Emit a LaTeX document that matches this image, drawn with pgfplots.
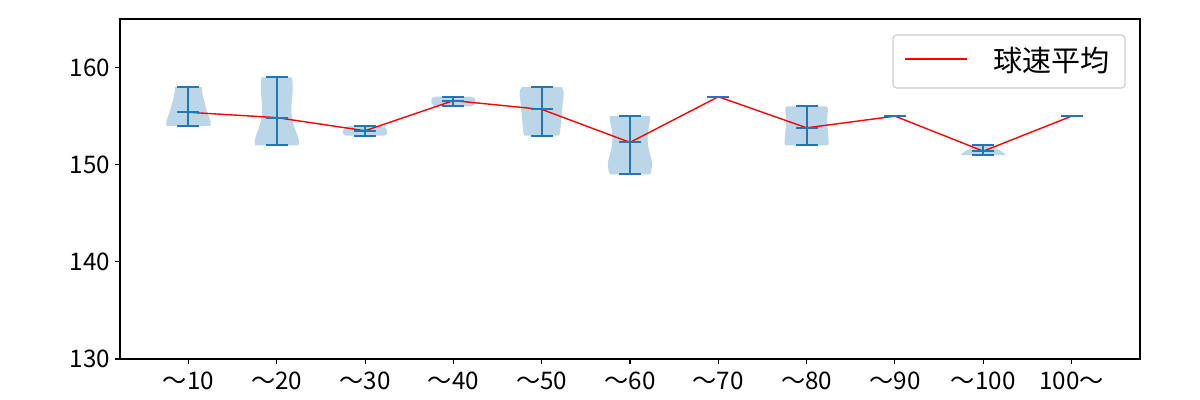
\documentclass[border=0pt]{standalone}
\usepackage{fontspec}
\setmainfont{Noto Sans CJK JP}
\usepackage{pgfplots}
\pgfplotsset{compat=1.18}
\definecolor{tabblue}{RGB}{31,119,180}
\definecolor{vfill}{RGB}{188,214,233}
\definecolor{legedge}{RGB}{204,204,204}
\begin{document}
\begin{tikzpicture}
\useasboundingbox (0,0) rectangle (867.24pt,289.08pt);
\begin{axis}[
  at={(86.72pt,29.63pt)}, anchor=south west,
  scale only axis, width=737.15pt, height=245.7pt,
  xmin=0.225, xmax=11.775, ymin=130, ymax=165,
  xtick={1,2,3,4,5,6,7,8,9,10,11},
  xticklabels={～10,～20,～30,～40,～50,～60,～70,～80,～90,～100,100～},
  ytick={130,140,150,160},
  xtick pos=left, ytick pos=left, tick align=outside,
  major tick length=3.5pt,
  every tick/.style={black, line width=0.8pt},
  axis line style={line width=0.8pt},
  tick label style={font=\fontsize{17.5}{20}\selectfont},
  xticklabel style={yshift=-2pt},
  /pgf/number format/assume math mode=true,
]
% violin bodies
\addplot[fill=vfill, draw=none, forget plot] coordinates {
(1.150,158) (1.155,157.5) (1.165,157) (1.180,156.5) (1.195,156) (1.210,155.5) (1.230,155) (1.250,154.5) (1.252,154.2) (1.250,154)
(0.750,154) (0.748,154.2) (0.750,154.5) (0.770,155) (0.790,155.5) (0.805,156) (0.820,156.5) (0.835,157) (0.845,157.5) (0.850,158)} --cycle;
\addplot[fill=vfill, draw=none, forget plot] coordinates {
(2.170,159) (2.180,158.5) (2.180,158) (2.180,157.5) (2.175,157) (2.170,156.5) (2.165,156) (2.165,155.5) (2.170,155) (2.180,154.5) (2.195,154) (2.215,153.5) (2.235,153) (2.250,152.5) (2.250,152.2) (2.245,152)
(1.755,152) (1.750,152.2) (1.750,152.5) (1.765,153) (1.785,153.5) (1.805,154) (1.820,154.5) (1.830,155) (1.835,155.5) (1.835,156) (1.830,156.5) (1.825,157) (1.820,157.5) (1.820,158) (1.820,158.5) (1.830,159)} --cycle;
\addplot[fill=vfill, draw=none, forget plot] coordinates {
(3.170,154) (3.220,153.9) (3.240,153.7) (3.250,153.5) (3.250,153.3) (3.240,153.1) (3.220,153)
(2.780,153) (2.760,153.1) (2.750,153.3) (2.750,153.5) (2.760,153.7) (2.780,153.9) (2.830,154)} --cycle;
\addplot[fill=vfill, draw=none, forget plot] coordinates {
(4.200,157) (4.235,156.9) (4.250,156.7) (4.250,156.5) (4.245,156.3) (4.225,156.1) (4.200,156)
(3.800,156) (3.775,156.1) (3.755,156.3) (3.750,156.5) (3.750,156.7) (3.765,156.9) (3.800,157)} --cycle;
\addplot[fill=vfill, draw=none, forget plot] coordinates {
(5.225,158) (5.245,157.7) (5.250,157.3) (5.248,157) (5.240,156.5) (5.235,156) (5.230,155.5) (5.225,155) (5.220,154.5) (5.215,154) (5.210,153.5) (5.205,153.2) (5.195,153)
(4.805,153) (4.795,153.2) (4.790,153.5) (4.785,154) (4.780,154.5) (4.775,155) (4.770,155.5) (4.765,156) (4.760,156.5) (4.752,157) (4.750,157.3) (4.755,157.7) (4.775,158)} --cycle;
\addplot[fill=vfill, draw=none, forget plot] coordinates {
(6.230,155) (6.225,154.5) (6.215,154) (6.205,153.5) (6.200,153) (6.200,152.5) (6.205,152) (6.215,151.5) (6.230,151) (6.245,150.5) (6.250,150) (6.245,149.5) (6.235,149.2) (6.225,149)
(5.775,149) (5.765,149.2) (5.755,149.5) (5.750,150) (5.755,150.5) (5.770,151) (5.785,151.5) (5.795,152) (5.800,152.5) (5.800,153) (5.795,153.5) (5.785,154) (5.775,154.5) (5.770,155)} --cycle;
\addplot[fill=vfill, draw=none, forget plot] coordinates {
(8.225,156) (8.240,155.8) (8.240,155.5) (8.235,155) (8.232,154.5) (8.235,154) (8.240,153.5) (8.245,153) (8.250,152.5) (8.250,152.2) (8.240,152)
(7.760,152) (7.750,152.2) (7.750,152.5) (7.755,153) (7.760,153.5) (7.765,154) (7.768,154.5) (7.765,155) (7.760,155.5) (7.760,155.8) (7.775,156)} --cycle;
\addplot[fill=vfill, draw=none, forget plot] coordinates {
(10.070,152) (10.110,151.8) (10.160,151.6) (10.200,151.4) (10.235,151.2) (10.250,151.1) (10.245,151)
(9.755,151) (9.750,151.1) (9.765,151.2) (9.800,151.4) (9.840,151.6) (9.890,151.8) (9.930,152)} --cycle;
% min-max vertical bars
\addplot[forget plot, tabblue, line width=1.5pt, mark=none, unbounded coords=jump] coordinates {
(1,154) (1,158) (1,nan)
(2,152) (2,159) (2,nan)
(3,153) (3,154) (3,nan)
(4,156) (4,157) (4,nan)
(5,153) (5,158) (5,nan)
(6,149) (6,155) (6,nan)
(8,152) (8,156) (8,nan)
(10,151) (10,152)
};
% caps: max, min, mean
\addplot[forget plot, only marks, mark=-, mark size=7.98pt, mark options={tabblue, line width=1.5pt}] coordinates {
(1,158) (1,154) (1,155.4)
(2,159) (2,152) (2,154.85)
(3,154) (3,153) (3,153.5)
(4,157) (4,156) (4,156.6)
(5,158) (5,153) (5,155.7)
(6,155) (6,149) (6,152.3)
(7,157)
(8,156) (8,152) (8,153.8)
(9,155)
(10,152) (10,151) (10,151.4)
(11,155)
};
% mean line
\addplot[red, line width=1pt, mark=none, forget plot] coordinates {
(1,155.4) (2,154.85) (3,153.5) (4,156.6) (5,155.7) (6,152.3) (7,157) (8,153.8) (9,155) (10,151.4) (11,155)};
% legend
\draw[legedge, line width=0.8pt, fill=white, rounded corners=2.5pt]
  (axis description cs:0.7578,0.7971) rectangle (axis description cs:0.9853,0.9529);
\draw[color=red, line width=1.2pt, line cap=butt] (axis description cs:0.7696,0.8824) -- (axis description cs:0.8304,0.8824);
\node[anchor=west, inner sep=0pt, font=\fontsize{21}{24}\selectfont]
  at (axis description cs:0.8559,0.8780) {球速平均};
\end{axis}
\end{tikzpicture}
\end{document}
